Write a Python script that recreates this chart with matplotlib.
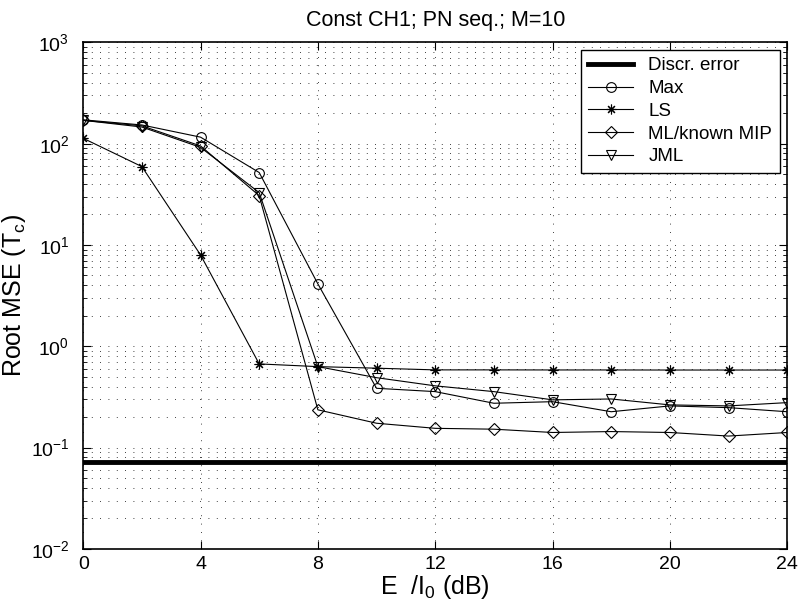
import matplotlib
matplotlib.use("Agg")
import matplotlib.pyplot as plt
from matplotlib.ticker import LogLocator, NullFormatter

plt.rcParams["font.family"] = ["Liberation Sans", "DejaVu Sans"]
plt.rcParams["mathtext.fontset"] = "custom"
plt.rcParams["mathtext.rm"] = "Liberation Sans"
plt.rcParams["mathtext.it"] = "Liberation Sans:italic"

snr = [0, 2, 4, 6, 8, 10, 12, 14, 16, 18, 20, 22, 24]
discr_error = 0.0716
max_rmse = [172, 153, 116, 51.9, 4.13, 0.385, 0.357, 0.274, 0.284, 0.226, 0.258, 0.248, 0.226]
ls_rmse = [113, 59.4, 7.98, 0.67, 0.63, 0.608, 0.585, 0.585, 0.584, 0.584, 0.583, 0.583, 0.583]
ml_rmse = [170, 150, 95, 30.7, 0.236, 0.174, 0.155, 0.152, 0.141, 0.144, 0.141, 0.130, 0.141]
jml_rmse = [170, 146, 92, 32.9, 0.63, 0.49, 0.407, 0.357, 0.296, 0.302, 0.264, 0.258, 0.278]

fig = plt.figure(figsize=(8, 6.14), dpi=100)
ax = fig.add_axes([0.104, 0.106, 0.880, 0.825])

line_style = dict(color="black", linewidth=0.8, markerfacecolor="none",
                  markeredgewidth=0.8)

ax.axhline(discr_error, color="black", linewidth=3.5, label="Discr. error")
ax.plot(snr, max_rmse, marker="o", markersize=7, label="Max", **line_style)
ax.plot(snr, ls_rmse, marker=(8, 2, 0), markersize=7, label="LS", **line_style)
ax.plot(snr, ml_rmse, marker="D", markersize=6, label="ML/known MIP", **line_style)
ax.plot(snr, jml_rmse, marker="v", markersize=7.5, label="JML", **line_style)

ax.set_yscale("log")
ax.set_xlim(0, 24)
ax.set_ylim(1e-2, 1e3)
ax.set_xticks([0, 4, 8, 12, 16, 20, 24])
ax.yaxis.set_major_locator(LogLocator(base=10, numticks=10))
ax.yaxis.set_minor_locator(LogLocator(base=10, subs=range(2, 10), numticks=20))
ax.yaxis.set_minor_formatter(NullFormatter())

ax.tick_params(axis="both", which="both", direction="in", top=True, right=True,
               labelsize=14, colors="black")
ax.tick_params(which="major", length=6)
ax.tick_params(which="minor", length=3)
ax.tick_params(axis="y", pad=10)
ax.tick_params(axis="x", pad=5)

ax.grid(True, which="major", axis="both", linestyle=(0, (1, 9)),
        color="black", linewidth=0.6)
ax.grid(True, which="minor", axis="y", linestyle=(0, (1, 9)),
        color="black", linewidth=0.6)

for s in ax.spines.values():
    s.set_linewidth(1.2)

ax.set_title("Const CH1; PN seq.; M=10", fontsize=15.5, pad=12)
ax.set_xlabel(r"E  /I$_0$ (dB)", fontsize=18, labelpad=0)
ax.set_ylabel(r"Root MSE (T$_\mathrm{c}$)", fontsize=18, labelpad=2)

leg = ax.legend(loc="upper right", fontsize=13.5, numpoints=1, fancybox=False,
                framealpha=1, edgecolor="black", borderaxespad=0.4,
                handlelength=2.4, handletextpad=0.8, labelspacing=0.3)
leg.get_frame().set_linewidth(1.0)

fig.savefig("out.png", dpi=100)
